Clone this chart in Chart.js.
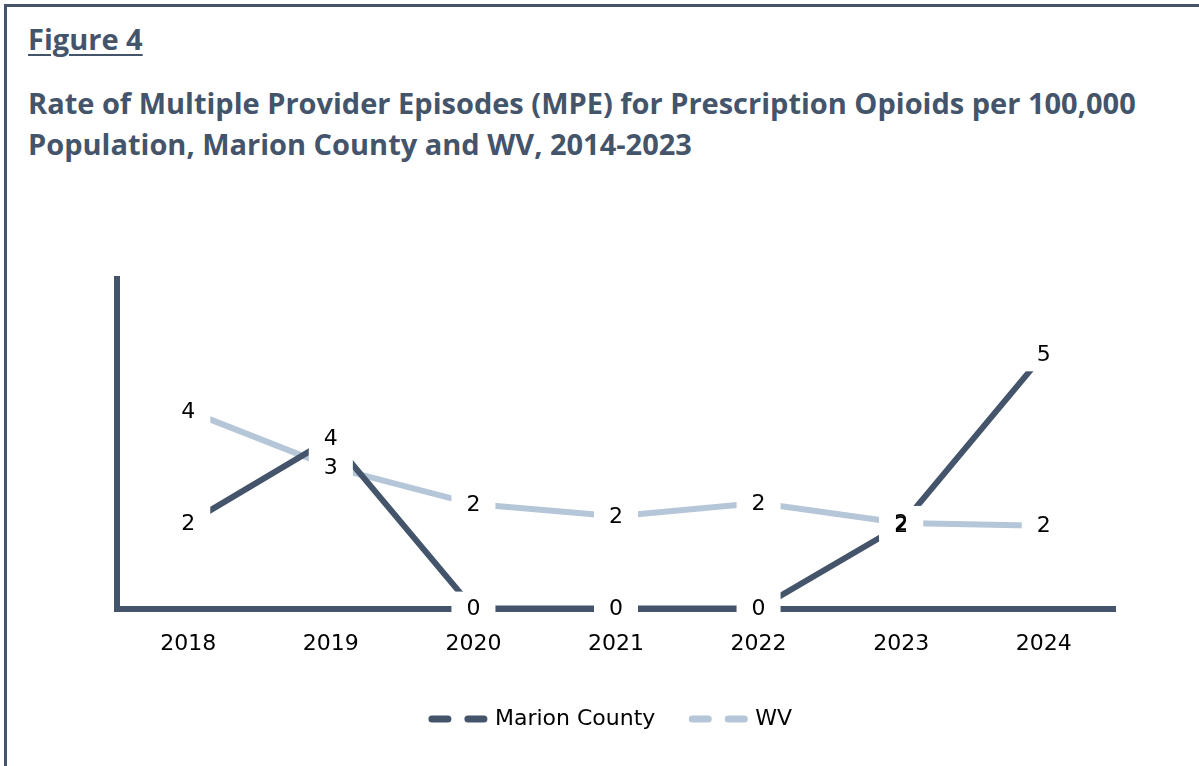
<!DOCTYPE html>
<html>
<head>
<meta charset="utf-8">
<script src="https://cdn.jsdelivr.net/npm/chart.js@4.4.1/dist/chart.umd.min.js"></script>
<style>
  body { margin: 0; background: #fff; width: 1199px; height: 766px; overflow: hidden; position: relative; }
  #frame { position: absolute; left: 4px; top: 4px; width: 1300px; height: 900px; border-top: 3px solid #44546a; border-left: 3px solid #44546a; }
  #fig { position: absolute; left: 28px; top: 19px; font: bold 29px "Open Sans", sans-serif; color: #44546a; text-decoration: underline; text-underline-offset: 4px; text-decoration-thickness: 2px; }
  #ttl { position: absolute; left: 28px; top: 82px; font: bold 29px "Open Sans", sans-serif; color: #44546a; line-height: 41px; white-space: nowrap; }
  #wrap { position: absolute; left: 0; top: 0; width: 1199px; height: 766px; }
</style>
</head>
<body>
<div id="frame"></div>
<div id="fig">Figure 4</div>
<div id="ttl">Rate of Multiple Provider Episodes (MPE) for Prescription Opioids per 100,000<br>Population, Marion County and WV, 2014-2023</div>
<div id="wrap"><canvas id="myChart"></canvas></div>
<script>
years = ['2018','2019','2020','2021','2022','2023','2024']
marion = [1.81, 3.61, 0, 0, 0, 1.77, 5.4]
wv = [4.2, 3.01, 2.22, 1.96, 2.24, 1.82, 1.76]
seriesNames = ['Marion County','WV']
dark = '#44546a'
light = '#b4c6d8'
labelFont = '"DejaVu Sans", "Liberation Sans", sans-serif'

// white boxes with rounded value, drawn over the lines like the excel labels
labelBoxes = {
	id: 'labelBoxes',
	afterDatasetsDraw(chart){
		ctx = chart.ctx
		ctx.save()
		ctx.font = '22px ' + labelFont
		ctx.textAlign = 'center'
		ctx.textBaseline = 'middle'
		for(d=0;d<chart.data.datasets.length;d++){
			pts = chart.getDatasetMeta(d).data
			for(i=0;i<pts.length;i++){
				ctx.fillStyle = '#ffffff'
				ctx.fillRect(pts[i].x-22, pts[i].y-17, 44, 34)
			}
		}
		for(d=0;d<chart.data.datasets.length;d++){
			pts = chart.getDatasetMeta(d).data
			vals = chart.data.datasets[d].data
			for(i=0;i<pts.length;i++){
				ctx.fillStyle = '#000000'
				ctx.fillText(String(Math.round(vals[i])), pts[i].x, pts[i].y+1)
			}
		}
		ctx.restore()
	}
}

canvas = document.getElementById('myChart')
canvas.width = 1199
canvas.height = 766

const myNewChart = new Chart(canvas, {
	type: 'line',
	data: {
		labels: years,
		datasets: [
			{label: seriesNames[0], data: marion, borderColor: dark, backgroundColor: dark, borderWidth: 6, pointRadius: 0, tension: 0},
			{label: seriesNames[1], data: wv, borderColor: light, backgroundColor: light, borderWidth: 6, pointRadius: 0, tension: 0}
		]
	},
	options: {
		responsive: false,
		animation: false,
		layout: {padding: {left: 109, right: 84, top: 279, bottom: 26}},
		scales: {
			x: {
				offset: true,
				grid: {display: false, offset: true},
				border: {display: true, color: dark, width: 6},
				ticks: {color: '#000', padding: 14, font: {family: labelFont, size: 22}}
			},
			y: {
				min: 0,
				max: 7,
				grid: {display: false},
				border: {display: true, color: dark, width: 6},
				ticks: {display: false}
			}
		},
		plugins: {
			tooltip: {enabled: false},
			legend: {
				display: true,
				position: 'bottom',
				labels: {
					color: '#000',
					font: {family: labelFont, size: 22},
					usePointStyle: true,
					pointStyleWidth: 52,
					boxWidth: 52,
					padding: 37,
					generateLabels(chart){
						return chart.data.datasets.map((ds, i) => ({
							text: ds.label,
							datasetIndex: i,
							pointStyle: 'line',
							strokeStyle: ds.borderColor,
							fillStyle: ds.borderColor,
							lineWidth: 7,
							lineCap: 'round',
							lineDash: [16, 20],
							fontColor: '#000'
						}))
					}
				}
			}
		}
	},
	plugins: [labelBoxes]
})
</script>
</body>
</html>
